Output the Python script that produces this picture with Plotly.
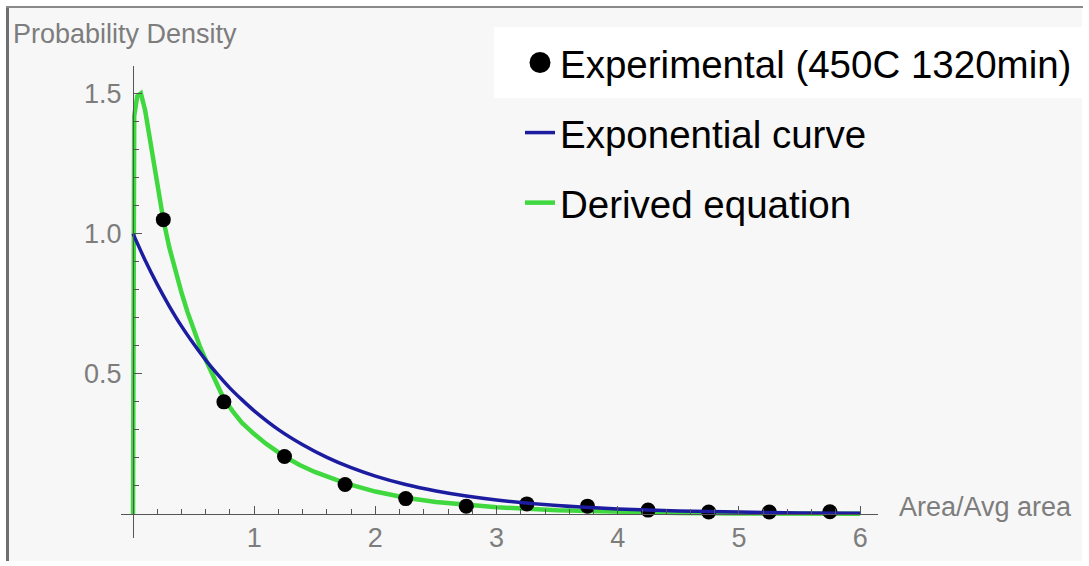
import plotly.graph_objects as go

# ---------------- data ----------------
exp_x = [0.25, 0.75, 1.25, 1.75, 2.25, 2.75, 3.25, 3.75, 4.25, 4.75, 5.25, 5.75]
exp_y = [1.05, 0.40, 0.205, 0.105, 0.055, 0.028, 0.036, 0.028, 0.014, 0.007, 0.007, 0.008]

expo_x = [0, 0.1, 0.2, 0.3, 0.4, 0.5, 0.6, 0.7, 0.8, 0.9, 1.0, 1.2, 1.4, 1.6, 1.8,
          2.0, 2.25, 2.5, 2.75, 3.0, 3.5, 4.0, 4.5, 5.0, 5.5, 6.0]
expo_y = [1.0, 0.905, 0.819, 0.741, 0.670, 0.607, 0.549, 0.497, 0.449, 0.407, 0.368,
          0.301, 0.247, 0.202, 0.165, 0.135, 0.105, 0.082, 0.064, 0.05, 0.03, 0.018,
          0.011, 0.007, 0.004, 0.0025]

deriv_x = [0, 0.01, 0.035, 0.065, 0.1, 0.15, 0.2, 0.25, 0.3, 0.35, 0.4, 0.45, 0.5, 0.55,
           0.6, 0.675, 0.75, 0.825, 0.9, 1.0, 1.1, 1.25, 1.375, 1.5, 1.625, 1.75, 2.0,
           2.25, 2.5, 2.75, 3.0, 3.5, 4.0, 4.5, 5.0, 5.5, 6.0]
deriv_y = [0, 1.42, 1.49, 1.50, 1.44, 1.31, 1.17, 1.05, 0.95, 0.865, 0.79, 0.72, 0.655,
           0.60, 0.55, 0.475, 0.41, 0.365, 0.325, 0.285, 0.25, 0.205, 0.175, 0.15, 0.128,
           0.11, 0.08, 0.058, 0.043, 0.032, 0.024, 0.013, 0.007, 0.004, 0.002, 0.001,
           0.0005]

x_ticks = [1, 2, 3, 4, 5, 6]
x_ticktext = ["1", "2", "3", "4", "5", "6"]
y_ticks = [0.5, 1.0, 1.5]
y_ticktext = ["0.5", "1.0", "1.5"]

names = ["Experimental (450C 1320min)", "Exponential curve", "Derived equation"]

# ---------------- layout geometry ----------------
W, H = 1089, 566
L, R, T, B = 121, 211, 66, 28
PW, PH = W - L - R, H - T - B


def px(xp):
    return (xp - L) / PW


def py(yp):
    return (H - B - yp) / PH


GRAY_TXT = "#7d7d7d"
AXC = "#555555"
FONT = "Liberation Sans"

fig = go.Figure()

# legend proxy for experimental points (bigger legend dot)
fig.add_trace(go.Scatter(
    x=[None], y=[None], mode="markers", name=names[0],
    marker=dict(color="black", size=16, line=dict(color="black", width=5)),
    legendgroup="g1", legendrank=1,
))
fig.add_trace(go.Scatter(
    x=deriv_x, y=deriv_y, mode="lines", name=names[2],
    line=dict(color="#3fd83f", width=4.5), legendgroup="g3", legendrank=3,
))
fig.add_trace(go.Scatter(
    x=exp_x, y=exp_y, mode="markers", name=names[0], showlegend=False,
    marker=dict(color="black", size=15), legendgroup="g1", cliponaxis=False,
))
fig.add_trace(go.Scatter(
    x=expo_x, y=expo_y, mode="lines", name=names[1],
    line=dict(color="#1c1ca0", width=3.5, shape="spline", smoothing=0.6),
    legendgroup="g2", legendrank=2,
))

tickfont = dict(family=FONT, size=27, color=GRAY_TXT)

fig.update_layout(
    width=W, height=H,
    margin=dict(l=L, r=R, t=T, b=B, pad=0, autoexpand=False),
    paper_bgcolor="white",
    plot_bgcolor="rgba(0,0,0,0)",
    font=dict(family=FONT),
    xaxis=dict(
        range=[-0.099, 6.147], anchor="free", position=py(514),
        showline=True, linecolor=AXC, linewidth=1,
        showgrid=False, zeroline=False,
        tickmode="array", tickvals=x_ticks, ticktext=x_ticktext,
        ticks="inside", ticklen=8, tickcolor=AXC, tickwidth=1,
        tickfont=tickfont, ticklabelstandoff=0,
        minor=dict(tickmode="linear", tick0=0, dtick=0.2, ticks="inside",
                   ticklen=5, tickcolor=AXC, showgrid=False),
    ),
    yaxis=dict(
        range=[-0.0856, 1.598], anchor="free", position=px(133),
        showline=True, linecolor=AXC, linewidth=1,
        showgrid=False, zeroline=False,
        tickmode="array", tickvals=y_ticks, ticktext=y_ticktext,
        ticks="inside", ticklen=8, tickcolor=AXC, tickwidth=1,
        tickfont=tickfont, ticklabelstandoff=6,
        minor=dict(tickmode="linear", tick0=0, dtick=0.1, ticks="inside",
                   ticklen=5, tickcolor=AXC, showgrid=False),
    ),
    legend=dict(
        x=px(520), y=py(31), xanchor="left", yanchor="top",
        font=dict(family=FONT, size=38.5, color="black"),
        bgcolor="rgba(0,0,0,0)", borderwidth=0,
        traceorder="grouped", tracegroupgap=17, itemsizing="trace",
    ),
    showlegend=True,
    shapes=[
        dict(type="rect", xref="paper", yref="paper", layer="below",
             x0=px(8), x1=px(1082), y0=py(561), y1=py(8),
             fillcolor="#f7f7f7", line=dict(width=0)),
        dict(type="rect", xref="paper", yref="paper", layer="below",
             x0=px(494), x1=px(1082), y0=py(98), y1=py(27),
             fillcolor="white", line=dict(width=0)),
        dict(type="line", xref="paper", yref="paper",
             x0=px(7.5), x1=px(7.5), y0=py(561), y1=py(6),
             line=dict(color="#6e6e6e", width=3)),
        dict(type="line", xref="paper", yref="paper",
             x0=px(6), x1=px(1083), y0=py(7), y1=py(7),
             line=dict(color="#8a8a8a", width=2)),
    ],
    annotations=[
        dict(text="Probability Density", xref="paper", yref="paper",
             x=px(11), y=py(34), xanchor="left", yanchor="middle",
             showarrow=False, font=dict(family=FONT, size=27, color=GRAY_TXT)),
        dict(text="Area/Avg area", xref="paper", yref="paper",
             x=px(897), y=py(507), xanchor="left", yanchor="middle",
             showarrow=False, font=dict(family=FONT, size=27, color=GRAY_TXT)),
    ],
)

fig.write_html("out.html")
